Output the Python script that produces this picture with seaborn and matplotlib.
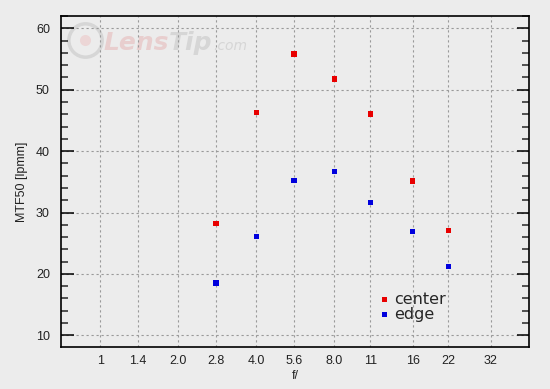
import numpy as np
import pandas as pd
import matplotlib
matplotlib.use("Agg")
import matplotlib.pyplot as plt
from matplotlib.ticker import FixedLocator, MultipleLocator
from matplotlib.transforms import offset_copy
import seaborn as sns

# data
apertures = [2.8, 4.0, 5.6, 8.0, 11, 16, 22]
center_mtf = [28.2, 46.3, 55.8, 51.7, 46.0, 35.1, 27.1]
edge_mtf = [18.5, 26.1, 35.2, 36.7, 31.6, 26.9, 21.2]
xtick_vals = [1, 1.4, 2, 2.8, 4, 5.6, 8, 11, 16, 22, 32]
xtick_labels = ["1", "1.4", "2.0", "2.8", "4.0", "5.6", "8.0", "11", "16", "22", "32"]
ytick_vals = [10, 20, 30, 40, 50, 60]

df = pd.DataFrame({
    "f": apertures * 2,
    "mtf": center_mtf + edge_mtf,
    "series": ["center"] * len(apertures) + ["edge"] * len(apertures),
})

bg = "#ececec"
sns.set_style("white")
plt.rcParams["font.family"] = ["Liberation Sans", "DejaVu Sans"]

fig, ax = plt.subplots(figsize=(5.5, 3.89), dpi=100)
fig.patch.set_facecolor(bg)
ax.set_facecolor(bg)
fig.subplots_adjust(left=61 / 550, right=529 / 550, top=1 - 16 / 389, bottom=1 - 347 / 389)

sns.scatterplot(data=df, x="f", y="mtf", hue="series", marker="s", s=16,
                palette={"center": "#e80000", "edge": "#0000dd"},
                linewidth=0, ax=ax, zorder=3)

ax.set_xscale("log", base=2)
ax.set_xlim(2 ** -0.5, 2 ** 5.49)
ax.set_ylim(8.1, 62)
ax.set_xticks(xtick_vals)
ax.set_xticklabels(xtick_labels)
ax.xaxis.set_minor_locator(FixedLocator([]))
ax.set_yticks(ytick_vals)
ax.yaxis.set_minor_locator(MultipleLocator(2))

ax.tick_params(axis="x", length=0, pad=6, labelsize=9, colors="#222222")
ax.tick_params(axis="y", which="major", direction="in", length=9, width=1.1,
               left=True, right=True, pad=8, labelsize=9, colors="black",
               labelcolor="#222222")
ax.tick_params(axis="y", which="minor", direction="in", length=5, width=1.1,
               left=True, right=True)

ax.grid(True, which="major", color="#999999", linestyle=(0, (2, 2.5)), linewidth=0.8)
ax.set_axisbelow(True)
for sp in ax.spines.values():
    sp.set_color("black")
    sp.set_linewidth(1.2)

ax.set_xlabel("f/", fontsize=9, labelpad=2, color="#222222")
ax.set_ylabel("MTF50 [lpmm]", fontsize=9, labelpad=6, color="#222222")

leg = ax.legend(loc="upper left", bbox_to_anchor=(0.655, 0.19), frameon=False,
                prop={"family": "DejaVu Sans", "size": 11.5}, handletextpad=0.05,
                labelspacing=0.0, borderpad=0, markerscale=0.9, handlelength=1.1)

# LensTip watermark (behind the grid)
ax.plot([0.0513], [0.9275], "o", transform=ax.transAxes, markersize=24,
        mfc="none", mec="#d6d6d6", mew=2.5, zorder=0.5)
ax.plot([0.0513], [0.9275], "o", transform=ax.transAxes, markersize=8,
        mfc="#ecd6d6", mec="none", zorder=0.5)
wm = dict(fontweight="bold", style="italic", family="DejaVu Sans", zorder=0.5)
t1 = ax.text(0.0897, 0.897, "Lens", transform=ax.transAxes, fontsize=18,
             color="#e8cece", **wm)
fig.canvas.draw()
r = fig.canvas.get_renderer()
w1 = t1.get_window_extent(r).width
t2 = ax.text(0.0897, 0.897, "Tip", fontsize=18, color="#d6d6d6",
             transform=offset_copy(ax.transAxes, fig=fig, x=w1, y=0, units="dots"), **wm)
w2 = t2.get_window_extent(r).width
ax.text(0.0897, 0.897, ".com", fontsize=10, style="italic", color="#d6d6d6",
        family="DejaVu Sans", zorder=0.5,
        transform=offset_copy(ax.transAxes, fig=fig, x=w1 + w2 + 1, y=0, units="dots"))

fig.savefig("out.png", dpi=100, facecolor=bg)
